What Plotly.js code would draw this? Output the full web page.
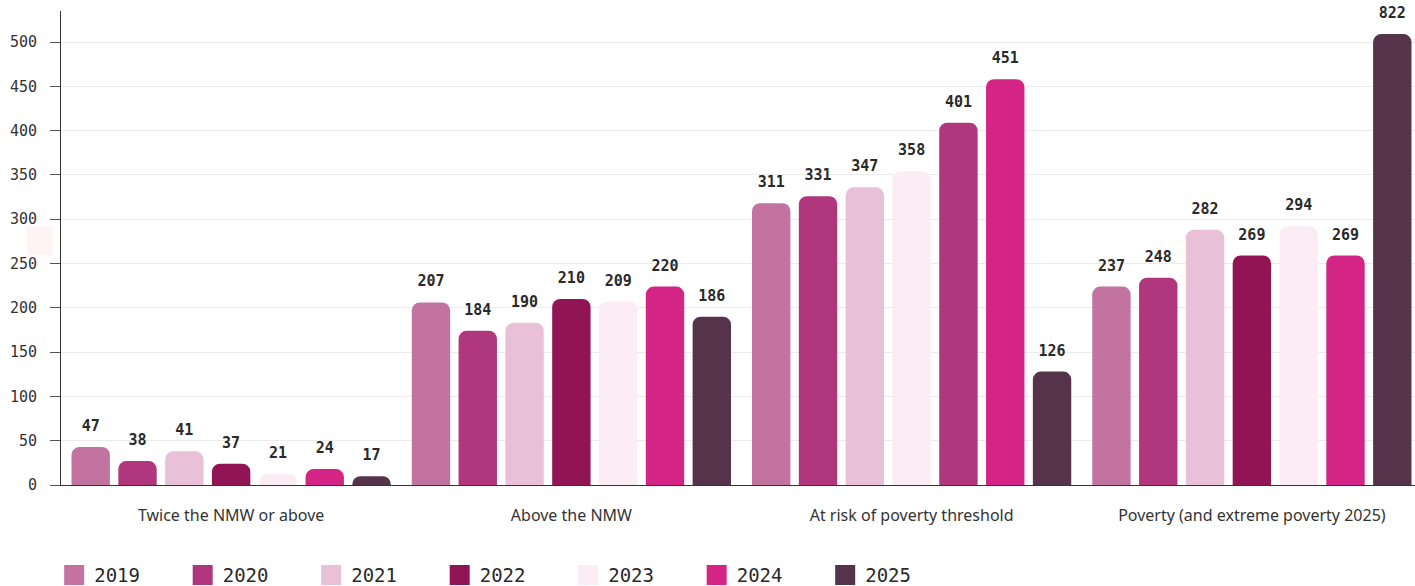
<!DOCTYPE html>
<html><head><meta charset="utf-8">
<script src="https://cdn.plot.ly/plotly-3.0.1.min.js"></script>
<style>html,body{margin:0;padding:0;overflow:hidden;background:#fff}#chart{width:1423px;height:586px}</style>
</head><body><div id="chart"></div>
<script>
const categories = ["Twice the NMW or above", "Above the NMW", "At risk of poverty threshold", "Poverty (and extreme poverty 2025)"];
const years = ["2019", "2020", "2021", "2022", "2023", "2024", "2025"];

// bar heights as drawn in the picture (per year, across the 4 categories)
const bars2019 = [43, 206, 318, 224];
const bars2020 = [27, 174, 326, 234];
const bars2021 = [38, 183, 336, 288];
const bars2022 = [24, 210, 354, 259];
const bars2023 = [12, 207, 409, 292];
const bars2024 = [18, 224, 458, 259];
const bars2025 = [10, 190, 128, 509];

// value labels printed above the bars
const labels2019 = [47, 207, 311, 237];
const labels2020 = [38, 184, 331, 248];
const labels2021 = [41, 190, 347, 282];
const labels2022 = [37, 210, 358, 269];
const labels2023 = [21, 209, 401, 294];
const labels2024 = [24, 220, 451, 269];
const labels2025 = [17, 186, 126, 822];

const yearColors = ["#C2739F", "#B0377D", "#E8C0D8", "#911554", "#FCEDF5", "#D42586", "#55334B"];

const barSeries = [bars2019, bars2020, bars2021, bars2022, bars2023, bars2024, bars2025];
const labelSeries = [labels2019, labels2020, labels2021, labels2022, labels2023, labels2024, labels2025];

// in the reference, the 3rd group shows the 2022 and 2023 bars with swapped-looking colours
function barColors(i) {
  const c = categories.map(() => yearColors[i]);
  if (i === 3) c[2] = yearColors[4];
  if (i === 4) c[2] = yearColors[1];
  return c;
}

const traces = [];
years.forEach((yr, i) => {
  traces.push({
    type: "bar", name: yr, x: categories, y: barSeries[i],
    marker: { color: barColors(i), line: { width: 0 } },
    legendgroup: yr, hoverinfo: "y+name"
  });
});
years.forEach((yr, i) => {
  traces.push({
    type: "scatter", mode: "markers+text", name: yr + " label", x: categories, y: barSeries[i],
    text: labelSeries[i].map(String), textposition: "top center",
    textfont: { family: "DejaVu Sans Mono", size: 15, color: "#2a2a2a", weight: "bold" },
    marker: { size: 18, color: "rgba(0,0,0,0)" },
    cliponaxis: false, showlegend: false, hoverinfo: "skip", legendgroup: yr
  });
});

const layout = {
  width: 1423, height: 586,
  margin: { l: 61, r: 1, t: 11, b: 101, autoexpand: false },
  paper_bgcolor: "#fff", plot_bgcolor: "#fff",
  barmode: "group", bargap: 0.037, bargroupgap: 0.18, barcornerradius: 8,
  scattermode: "group", scattergap: 0.037,
  showlegend: true,
  legend: {
    orientation: "h", x: -0.005, xanchor: "left", y: -0.19, yanchor: "middle",
    font: { family: "DejaVu Sans Mono", size: 19, color: "#2a2a2a" },
    entrywidth: 83.5, entrywidthmode: "pixels", traceorder: "normal"
  },
  xaxis: {
    type: "category", showline: true, linecolor: "#333", linewidth: 1,
    ticks: "", showgrid: false, ticklabelstandoff: 16,
    tickfont: { family: "Noto Sans", size: 16, color: "#333" }
  },
  yaxis: {
    range: [0, 535], dtick: 50, tick0: 0,
    showline: true, linecolor: "#333", linewidth: 1,
    ticks: "outside", ticklen: 10, tickcolor: "#555", tickwidth: 1,
    gridcolor: "#ebebeb", gridwidth: 1, zeroline: false,
    ticklabelstandoff: 10,
    tickfont: { family: "DejaVu Sans Mono", size: 15, color: "#333" }
  },
  shapes: [{
    type: "rect", xref: "paper", yref: "paper", x0: -0.025, x1: -0.006, y0: 0.485, y1: 0.546,
    fillcolor: "#FFF4F4", line: { width: 0 }, layer: "below"
  }]
};

Plotly.newPlot("chart", traces, layout, { displayModeBar: false, staticPlot: true }).then(gd => {
  // the reference uses larger, square-cornered 20px legend swatches
  gd.querySelectorAll(".legend .legendpoints path").forEach(p => {
    p.setAttribute("d", "M10,10H-10V-10H10Z");
  });
});
</script>
</body></html>
